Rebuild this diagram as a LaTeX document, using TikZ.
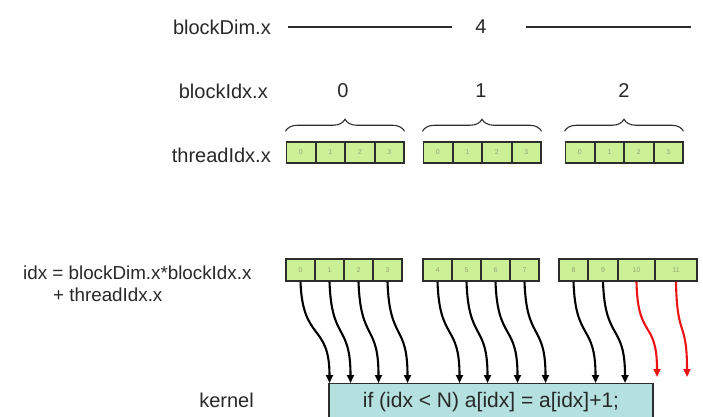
\documentclass[tikz,border=0pt]{standalone}
\usepackage{fontspec}
\setmainfont{Liberation Sans}
\usetikzlibrary{arrows.meta,calc,decorations.pathreplacing}
\definecolor{cellgreen}{RGB}{204,240,150}
\definecolor{cellnum}{RGB}{150,165,120}
\definecolor{kernelblue}{RGB}{180,224,224}
\definecolor{darkline}{RGB}{45,45,45}
\definecolor{textgray}{RGB}{40,40,40}
\definecolor{outred}{RGB}{235,20,20}

\begin{document}
\begin{tikzpicture}[x=1pt,y=-1pt]
    \tikzstyle{cell} = [rectangle, draw=darkline, line width=1.5pt, fill=cellgreen, minimum width=29pt, minimum height=21pt, inner sep=0pt, text=cellnum, font=\fontsize{7}{8}\selectfont]
    \tikzstyle{label_text} = [inner sep=0pt, text=textgray, font=\fontsize{20}{24}\selectfont]
    \tikzstyle{formula_text} = [inner sep=0pt, anchor=west, text=textgray, font=\fontsize{18.8}{22}\selectfont]
    \tikzstyle{kernel_box} = [rectangle, draw=darkline, line width=1.4pt, fill=kernelblue, minimum width=324pt, minimum height=36pt, anchor=north, text=textgray, font=\fontsize{21}{25}\selectfont]
    \tikzstyle{dim_line} = [draw=darkline, line width=1.5pt]
    \tikzstyle{brace_line} = [draw=darkline, line width=1.1pt, decorate, decoration={brace, amplitude=12pt}]
    \tikzstyle{thread_arrow} = [draw=black, line width=2.1pt, -{Triangle[length=8pt,width=7pt]}]

    \useasboundingbox (0,0) rectangle (703,416);
    \clip (0,0) rectangle (703,416);

      % labels and kernel
      \draw
        (271,27) node[label_text, anchor=east] (dim){blockDim.x}
        (481,27) node[label_text] (four){4}
        (268,91) node[label_text, anchor=east] (bidx){blockIdx.x}
        (343,91) node[label_text] (b0){0}
        (481,91) node[label_text] (b1){1}
        (624,91) node[label_text] (b2){2}
        (271,155) node[label_text, anchor=east] (tidx){threadIdx.x}
        (23,273) node[formula_text] (idx){idx = blockDim.x*blockIdx.x}
        (53,295) node[formula_text] (idx_plus){+ threadIdx.x}
        (254,400) node[label_text, anchor=east] (kern_label){kernel}
        (491,383) node[kernel_box] (kern){if (idx < N) a[idx] = a[idx]+1;};

      \coordinate (dim_a) at (288,27);
      \coordinate (dim_b) at (452,27);
      \coordinate (dim_c) at (526,27);
      \coordinate (dim_d) at (691,27);
      \draw[dim_line] (dim_a) -- (dim_b);
      \draw[dim_line] (dim_c) -- (dim_d);

      % threadIdx.x per block
      \draw
        (300.75,152.5) node[cell] (t00){0}
        (330.25,152.5) node[cell] (t01){1}
        (359.75,152.5) node[cell] (t02){2}
        (389.25,152.5) node[cell] (t03){3}
        (437.75,152.5) node[cell] (t10){0}
        (467.25,152.5) node[cell] (t11){1}
        (496.75,152.5) node[cell] (t12){2}
        (526.25,152.5) node[cell] (t13){3}
        (579.75,152.5) node[cell] (t20){0}
        (609.25,152.5) node[cell] (t21){1}
        (638.75,152.5) node[cell] (t22){2}
        (668.25,152.5) node[cell] (t23){3};

      \draw[brace_line] ([yshift=10pt]t00.north west) -- ([yshift=10pt]t03.north east);
      \draw[brace_line] ([yshift=10pt]t10.north west) -- ([yshift=10pt]t13.north east);
      \draw[brace_line] ([yshift=10pt]t20.north west) -- ([yshift=10pt]t23.north east);

      % global idx
      \draw
        (300.5,270) node[cell, minimum height=22pt] (i0){0}
        (329.5,270) node[cell, minimum height=22pt] (i1){1}
        (358.5,270) node[cell, minimum height=22pt] (i2){2}
        (387.5,270) node[cell, minimum height=22pt] (i3){3}
        (437.5,270) node[cell, minimum height=22pt] (i4){4}
        (466.5,270) node[cell, minimum height=22pt] (i5){5}
        (495.5,270) node[cell, minimum height=22pt] (i6){6}
        (524.5,270) node[cell, minimum height=22pt] (i7){7}
        (573.5,270) node[cell, minimum height=22pt] (i8){8}
        (603,270) node[cell, minimum height=22pt, minimum width=30pt] (i9){9}
        (636.5,270) node[cell, minimum height=22pt, minimum width=37pt] (i10){10}
        (676,270) node[cell, minimum height=22pt, minimum width=42pt] (i11){11};

      \coordinate (r10) at (657,377);
      \coordinate (r11) at (687,377);

      \begin{scope}[thread_arrow]
        \draw (i0.south) .. controls +(2,60) and +(0,-60) .. ($(i0.south |- kern.north)+(29,0)$);
        \draw (i1.south) .. controls +(2,60) and +(0,-60) .. ($(i1.south |- kern.north)+(21,0)$);
        \draw (i2.south) .. controls +(2,60) and +(0,-60) .. ($(i2.south |- kern.north)+(20,0)$);
        \draw (i3.south) .. controls +(2,60) and +(0,-60) .. ($(i3.south |- kern.north)+(20,0)$);
        \draw (i4.south) .. controls +(2,60) and +(0,-60) .. ($(i4.south |- kern.north)+(22,0)$);
        \draw (i5.south) .. controls +(2,60) and +(0,-60) .. ($(i5.south |- kern.north)+(21,0)$);
        \draw (i6.south) .. controls +(2,60) and +(0,-60) .. ($(i6.south |- kern.north)+(22,0)$);
        \draw (i7.south) .. controls +(2,60) and +(0,-60) .. ($(i7.south |- kern.north)+(21,0)$);
        \draw (i8.south) .. controls +(2,60) and +(0,-60) .. ($(i8.south |- kern.north)+(22,0)$);
        \draw (i9.south) .. controls +(2,60) and +(0,-60) .. ($(i9.south |- kern.north)+(22,0)$);
        \draw[outred] (i10.south) .. controls +(1,58) and +(0,-58) .. (r10);
        \draw[outred] (i11.south) .. controls +(1,58) and +(0,-58) .. (r11);
      \end{scope}
    \end{tikzpicture}
\end{document}
